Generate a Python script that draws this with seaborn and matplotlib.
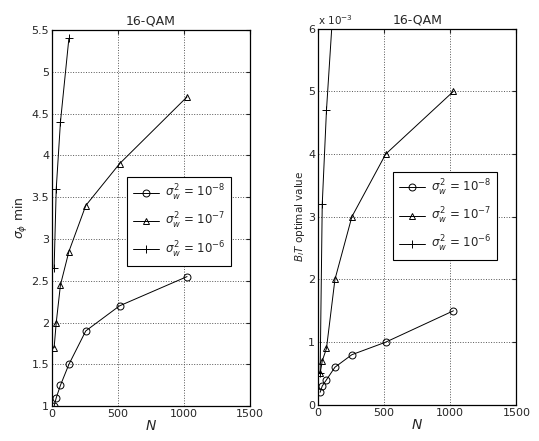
import numpy as np
import pandas as pd
import matplotlib
matplotlib.use('Agg')
import matplotlib.pyplot as plt
import seaborn as sns

# block sizes
N = [16, 32, 64, 128, 256, 512, 1024]
N_short = [16, 32, 64, 128]

# left panel: sigma_phi min
sig_m8 = [1.0, 1.1, 1.25, 1.5, 1.9, 2.2, 2.55]
sig_m7 = [1.7, 2.0, 2.45, 2.85, 3.4, 3.9, 4.7]
sig_m6 = [2.65, 3.6, 4.4, 5.4]

# right panel: B_l T optimal value (x 1e-3)
bt_m8 = [0.2, 0.3, 0.4, 0.6, 0.8, 1.0, 1.5]
bt_m7 = [0.5, 0.7, 0.9, 2.0, 3.0, 4.0, 5.0]
bt_m6 = [0.5, 3.2, 4.7, 6.8]

labels = [r'$\sigma^2_w$ = 10$^{-8}$', r'$\sigma^2_w$ = 10$^{-7}$', r'$\sigma^2_w$ = 10$^{-6}$']
markers = ['o', '^', '+']

sns.set_style('white')
plt.rcParams['font.family'] = ['DejaVu Sans']

fig = plt.figure(figsize=(5.39, 4.41), dpi=100)
ax1 = fig.add_axes([0.0965, 0.079, 0.367, 0.853])
ax2 = fig.add_axes([0.59, 0.082, 0.368, 0.853])


def draw(ax, series, xs_list):
    for vals, xs, lab, mk in zip(series, xs_list, labels, markers):
        sns.lineplot(x=xs, y=vals, ax=ax, color='black', lw=0.7, marker=mk,
                     markersize=5 if mk != '+' else 6, markerfacecolor='none',
                     markeredgecolor='black', markeredgewidth=0.7, label=lab)
    ax.set_xlim(0, 1500)
    ax.set_xticks([0, 500, 1000, 1500])
    ax.grid(True, linestyle=':', color='#555555', linewidth=0.7)
    ax.tick_params(direction='in', top=True, right=True, labelsize=8, length=3, pad=2)
    for s in ax.spines.values():
        s.set_color('black')
        s.set_linewidth(0.9)
    ax.set_title('16-QAM', fontsize=9, pad=4)
    ax.set_xlabel('$N$', fontsize=10, labelpad=0)


def add_legend(ax, anchor):
    leg = ax.legend(loc='upper left', bbox_to_anchor=anchor, borderaxespad=0,
                    fontsize=8.5, fancybox=False, edgecolor='black', framealpha=1,
                    handlelength=2.2, handletextpad=0.5, labelspacing=0.7,
                    borderpad=0.5)
    leg.get_frame().set_linewidth(0.8)


draw(ax1, [sig_m8, sig_m7, sig_m6], [N, N, N_short])
ax1.set_ylim(1, 5.5)
ax1.set_yticks(np.arange(1, 5.51, 0.5))
ax1.set_yticklabels(['1', '1.5', '2', '2.5', '3', '3.5', '4', '4.5', '5', '5.5'])
ax1.set_ylabel(r'$\sigma_\phi$ min', fontsize=9, labelpad=1)
add_legend(ax1, (0.379, 0.609))

draw(ax2, [bt_m8, bt_m7, bt_m6], [N, N, N_short])
ax2.set_ylim(0, 6)
ax2.set_yticks(range(0, 7))
ax2.set_ylabel(r'$B_lT$ optimal value', fontsize=7.5, labelpad=1)
ax2.text(0.0, 1.005, r'x 10$^{-3}$', transform=ax2.transAxes, fontsize=7.5,
         ha='left', va='bottom')
add_legend(ax2, (0.378, 0.62))

fig.savefig('out.png', dpi=100)
